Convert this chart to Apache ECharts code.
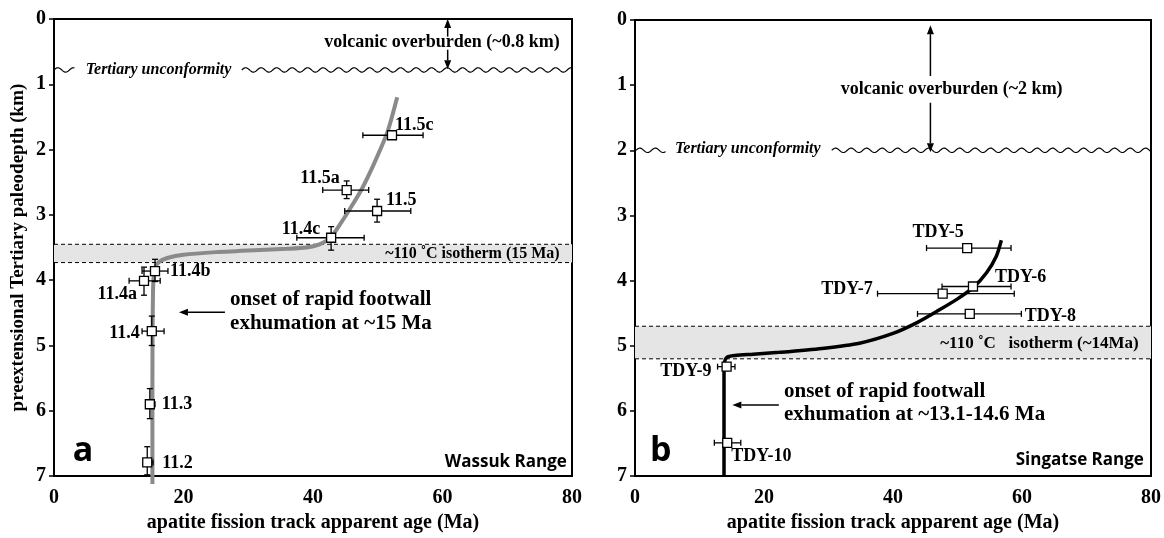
<!DOCTYPE html>
<html><head><meta charset="utf-8">
<script src="https://cdn.jsdelivr.net/npm/echarts@6/dist/echarts.min.js"></script>
<style>html,body{margin:0;padding:0;background:#fff}#c{width:1164px;height:538px}</style>
</head><body><div id="c"></div><script>
// ---------- data ----------
const ageMin = 0, ageMax = 80, ageStep = 20;
const depthMin = 0, depthMax = 7, depthStep = 1;

// Wassuk Range samples
const wassukSamples = ['11.5c','11.5a','11.5','11.4c','11.4b','11.4a','11.4','11.3','11.2'];
const wassukAge      = [52.2, 45.2, 49.9, 42.8, 15.6, 13.9, 15.1, 14.8, 14.4];
const wassukDepth    = [1.78, 2.62, 2.94, 3.35, 3.86, 4.01, 4.78, 5.90, 6.79];
const wassukAgeLo    = [47.7, 41.5, 44.9, 37.5, 13.6, 11.6, 13.6, 14.2, 13.9];
const wassukAgeHi    = [57.0, 48.6, 55.1, 47.9, 17.6, 16.4, 17.0, 15.6, 15.3];
const wassukDepthLo  = [null, 2.48, 2.76, 3.18, 3.68, 3.80, 4.55, 5.66, 6.55];
const wassukDepthHi  = [null, 2.75, 3.11, 3.54, 4.02, 4.23, 5.00, 6.12, 6.98];
const wassukCurveAge   = [15.2, 15.2, 15.25, 15.35, 15.6, 16.2, 17.5, 20, 25, 31, 36, 39, 41, 42.7, 44.2, 45.5, 47.5, 49.5, 51.5, 53.0];
const wassukCurveDepth = [7.12, 5.5, 4.5, 4.0, 3.82, 3.72, 3.66, 3.61, 3.57, 3.54, 3.52, 3.5, 3.45, 3.35, 3.14, 2.94, 2.61, 2.2, 1.73, 1.2];
const wassukIsotherm = [3.45, 3.73];
const wassukUnconformity = 0.78;

// Singatse Range samples
const singatseSamples = ['TDY-5','TDY-6','TDY-7','TDY-8','TDY-9','TDY-10'];
const singatseAge     = [51.5, 52.4, 47.7, 51.9, 14.2, 14.3];
const singatseDepth   = [3.50, 4.09, 4.20, 4.51, 5.32, 6.49];
const singatseAgeLo   = [45.2, 47.6, 37.6, 43.8, 12.8, 12.3];
const singatseAgeHi   = [58.3, 58.3, 58.8, 59.9, 15.5, 16.4];
const singatseCurveAge   = [13.8, 13.8, 13.85, 14.2, 15.5, 18.3, 22.4, 29, 34.8, 40, 43.8, 47, 50, 52.5, 54.5, 56, 56.8];
const singatseCurveDepth = [7.0, 5.5, 5.28, 5.18, 5.15, 5.13, 5.1, 5.04, 4.96, 4.81, 4.64, 4.46, 4.28, 4.1, 3.88, 3.63, 3.38];
const singatseIsotherm = [4.7, 5.2];
const singatseUnconformity = 2.0;

// ---------- layout (label offsets in px, not data) ----------
const wassukLabelLayout = [[3,-10,'left'],[-7,-12,'right'],[9,-11,'left'],[-11,-8,'right'],[15,0,'left'],[-7,13,'right'],[-12,2,'right'],[12,0,'left'],[15,1,'left']];
const singatseLabelLayout = [[-29,-16,'center'],[22,-9,'left'],[-70,-4,'right'],[55,2,'left'],[-15,5,'right'],[4,13,'left']];

const SERIF = '"Liberation Serif","Times New Roman",serif';
const SANS = '"Open Sans","Liberation Sans",sans-serif';

// annotations: [x, y, text, align, font]
const wassukNotes = [
  [78.1, 0.36, 'volcanic overburden (~0.8 km)', 'right', 'bold 18px ' + SERIF],
  [4.9, 0.78, 'Tertiary unconformity', 'left', 'italic bold 16px ' + SERIF],
  [78.1, 3.6, '~110 \u02DAC isotherm (15 Ma)', 'right', 'bold 16px ' + SERIF],
  [27.2, 4.29, 'onset of rapid footwall', 'left', 'bold 21px ' + SERIF],
  [27.2, 4.66, 'exhumation at ~15 Ma', 'left', 'bold 21px ' + SERIF],
  [4.5, 6.62, 'a', 'center', 'bold 34px ' + SANS],
  [79.2, 6.79, 'Wassuk Range', 'right', 'bold 17px ' + SANS]
];
const singatseNotes = [
  [49.1, 1.07, 'volcanic overburden (~2 km)', 'center', 'bold 18px ' + SERIF],
  [6.2, 1.98, 'Tertiary unconformity', 'left', 'italic bold 16px ' + SERIF],
  [78.1, 4.97, '~110 \u02DAC   isotherm (~14Ma)', 'right', 'bold 17px ' + SERIF],
  [23.1, 5.70, 'onset of rapid footwall', 'left', 'bold 21px ' + SERIF],
  [23.1, 6.05, 'exhumation at ~13.1-14.6 Ma', 'left', 'bold 21px ' + SERIF],
  [4.0, 6.62, 'b', 'center', 'bold 34px ' + SANS],
  [78.9, 6.76, 'Singatse Range', 'right', 'bold 17px ' + SANS]
];
// arrows [x1,y1,x2,y2]
const wassukArrows = [[60.8, 0.27, 60.8, 0.0], [60.8, 0.47, 60.8, 0.77], [26.4, 4.49, 19.3, 4.49]];
const singatseArrows = [[45.8, 0.86, 45.8, 0.08], [45.8, 1.27, 45.8, 2.03], [22.3, 5.91, 15.1, 5.91]];
// wave segments [xStart, xEnd, depth]
const wassukWaves = [[0, 3.2, wassukUnconformity], [29, 80, wassukUnconformity]];
const singatseWaves = [[0.15, 4.8, singatseUnconformity], [30.5, 80, singatseUnconformity]];

// ---------- renderers ----------
const st = {stroke:'#000', lineWidth:1.3};
function errorBarItem(params, api) {
  const x = api.value(0), y = api.value(1);
  const xl = api.value(2), xh = api.value(3), yl = api.value(4), yh = api.value(5);
  const ch = [], cap = 3;
  if (!isNaN(xl) && !isNaN(xh)) {
    const a = api.coord([xl, y]), b = api.coord([xh, y]);
    ch.push({type:'line', shape:{x1:a[0],y1:a[1],x2:b[0],y2:b[1]}, style:st});
    ch.push({type:'line', shape:{x1:a[0],y1:a[1]-cap,x2:a[0],y2:a[1]+cap}, style:st});
    ch.push({type:'line', shape:{x1:b[0],y1:b[1]-cap,x2:b[0],y2:b[1]+cap}, style:st});
  }
  if (!isNaN(yl) && !isNaN(yh)) {
    const a = api.coord([x, yl]), b = api.coord([x, yh]);
    ch.push({type:'line', shape:{x1:a[0],y1:a[1],x2:b[0],y2:b[1]}, style:st});
    ch.push({type:'line', shape:{x1:a[0]-cap,y1:a[1],x2:a[0]+cap,y2:a[1]}, style:st});
    ch.push({type:'line', shape:{x1:b[0]-cap,y1:b[1],x2:b[0]+cap,y2:b[1]}, style:st});
  }
  return {type:'group', children: ch};
}
function labelRenderer(names, layout) {
  return function(params, api) {
    const c = api.coord([api.value(0), api.value(1)]);
    const o = layout[params.dataIndex];
    return {type:'text', x: c[0] + o[0], y: c[1] + o[1],
      style:{text: names[params.dataIndex], font: 'bold 18px ' + SERIF, fill:'#000',
        align: o[2], textAlign: o[2], verticalAlign:'middle', textVerticalAlign:'middle'}};
  };
}
function noteRenderer(notes) {
  return function(params, api) {
    const n = notes[params.dataIndex];
    const c = api.coord([n[0], n[1]]);
    return {type:'text', x: c[0], y: c[1],
      style:{text: n[2], font: n[4], fill:'#000', align: n[3], textAlign: n[3], verticalAlign:'middle', textVerticalAlign:'middle'}};
  };
}
function arrowItem(params, api) {
  const a = api.coord([api.value(0), api.value(1)]), b = api.coord([api.value(2), api.value(3)]);
  const dx = b[0]-a[0], dy = b[1]-a[1], L = Math.hypot(dx, dy), ux = dx/L, uy = dy/L;
  const hl = 9, hw = 3.5;
  const base = [b[0]-ux*hl, b[1]-uy*hl];
  return {type:'group', children:[
    {type:'line', shape:{x1:a[0],y1:a[1],x2:base[0],y2:base[1]}, style:{stroke:'#000', lineWidth:1.5}},
    {type:'polygon', shape:{points:[b, [base[0]-uy*hw, base[1]+ux*hw], [base[0]+uy*hw, base[1]-ux*hw]]}, style:{fill:'#000'}}
  ]};
}
function waveItem(params, api) {
  const p1 = api.coord([api.value(0), api.value(2)]);
  const p2 = api.coord([api.value(1), api.value(2)]);
  const pts = [], period = 15.5, amp = 2.2;
  for (let x = p1[0]; x <= p2[0]; x += 0.5) pts.push([x, p1[1] - amp * Math.sin(2 * Math.PI * (x - p1[0]) / period)]);
  return {type:'polyline', shape:{points: pts}, style:{stroke:'#000', lineWidth:1.2, fill:null}};
}
function bandItem(params, api) {
  const a = api.coord([ageMin, api.value(0)]), b = api.coord([ageMax, api.value(1)]);
  const ds = {stroke:'#000', lineWidth:1, lineDash:[4,3]};
  return {type:'group', children:[
    {type:'rect', shape:{x:a[0], y:a[1], width:b[0]-a[0], height:b[1]-a[1]}, style:{fill:'#e5e5e5'}},
    {type:'line', shape:{x1:a[0],y1:a[1],x2:b[0],y2:a[1]}, style:ds},
    {type:'line', shape:{x1:a[0],y1:b[1],x2:b[0],y2:b[1]}, style:ds}
  ]};
}

// ---------- axes ----------
const tickFont = {color:'#000', fontFamily: SERIF, fontWeight:'bold', fontSize:20};
function xAxis(i, gap) {
  return {gridIndex:i, type:'value', min:ageMin, max:ageMax, interval:ageStep,
    axisLine:{lineStyle:{color:'#000', width:2}}, axisTick:{show:false}, splitLine:{show:false},
    axisLabel:Object.assign({margin:12}, tickFont),
    name:'apatite fission track apparent age (Ma)', nameLocation:'middle', nameGap:gap,
    nameTextStyle:{color:'#000', fontFamily:SERIF, fontWeight:'bold', fontSize:20}};
}
function yAxis(i, withName) {
  const ax = {gridIndex:i, type:'value', inverse:true, min:depthMin, max:depthMax, interval:depthStep,
    axisLine:{lineStyle:{color:'#000', width:2}}, axisTick:{show:true, length:5, lineStyle:{color:'#000', width:1.5}},
    splitLine:{show:false}, axisLabel:Object.assign({margin:8}, tickFont)};
  if (withName) Object.assign(ax, {name:'preextensional Tertiary paleodepth (km)', nameLocation:'middle', nameRotate:90, nameGap:26,
    nameTextStyle:{color:'#000', fontFamily:SERIF, fontWeight:'bold', fontSize:19}});
  return ax;
}

function zipPts(xs, ys) { return xs.map((x, i) => [x, ys[i]]); }

function panelSeries(i, o) {
  return [
    {type:'custom', xAxisIndex:i, yAxisIndex:i, z:1, silent:true, renderItem:bandItem, data:[o.iso]},
    {type:'custom', xAxisIndex:i, yAxisIndex:i, z:2, silent:true, renderItem:waveItem, data:o.waves},
    {type:'line', xAxisIndex:i, yAxisIndex:i, z:3, silent:true, clip:false, symbol:'none', smooth:0.25,
      lineStyle:{color:o.curveColor, width:o.curveWidth}, data: zipPts(o.cx, o.cy)},
    {type:'custom', xAxisIndex:i, yAxisIndex:i, z:4, silent:true, renderItem:errorBarItem,
      data: o.age.map((a, k) => [a, o.depth[k], o.alo[k], o.ahi[k], o.dlo ? o.dlo[k] : null, o.dhi ? o.dhi[k] : null])},
    {type:'scatter', xAxisIndex:i, yAxisIndex:i, z:5, silent:true, symbol:'rect', symbolSize:9,
      itemStyle:{color:'#fff', borderColor:'#000', borderWidth:1.3, opacity:1}, data: zipPts(o.age, o.depth)},
    {type:'custom', xAxisIndex:i, yAxisIndex:i, z:6, silent:true, renderItem:labelRenderer(o.names, o.layout), data: zipPts(o.age, o.depth)},
    {type:'custom', xAxisIndex:i, yAxisIndex:i, z:6, silent:true, renderItem:arrowItem, data:o.arrows},
    {type:'custom', xAxisIndex:i, yAxisIndex:i, z:6, silent:true, renderItem:noteRenderer(o.notes), data:o.notes.map(n => [n[0], n[1]])}
  ];
}

const chart = echarts.init(document.getElementById('c'), null, {renderer:'canvas'});
chart.setOption({
  animation:false,
  backgroundColor:'#fff',
  grid:[
    {left:54, top:19, width:518, height:463, show:true, borderColor:'#000', borderWidth:2},
    {left:635, top:20, width:517, height:463, show:true, borderColor:'#000', borderWidth:2}
  ],
  xAxis:[xAxis(0, 34), xAxis(1, 30)],
  yAxis:[yAxis(0, true), yAxis(1, false)],
  series:[].concat(
    panelSeries(0, {iso:wassukIsotherm, waves:wassukWaves, curveColor:'#8a8a8a', curveWidth:4,
      cx:wassukCurveAge, cy:wassukCurveDepth, age:wassukAge, depth:wassukDepth, alo:wassukAgeLo, ahi:wassukAgeHi,
      dlo:wassukDepthLo, dhi:wassukDepthHi, names:wassukSamples, layout:wassukLabelLayout, arrows:wassukArrows, notes:wassukNotes}),
    panelSeries(1, {iso:singatseIsotherm, waves:singatseWaves, curveColor:'#000', curveWidth:3.5,
      cx:singatseCurveAge, cy:singatseCurveDepth, age:singatseAge, depth:singatseDepth, alo:singatseAgeLo, ahi:singatseAgeHi,
      dlo:null, dhi:null, names:singatseSamples, layout:singatseLabelLayout, arrows:singatseArrows, notes:singatseNotes})
  )
});
</script></body></html>
